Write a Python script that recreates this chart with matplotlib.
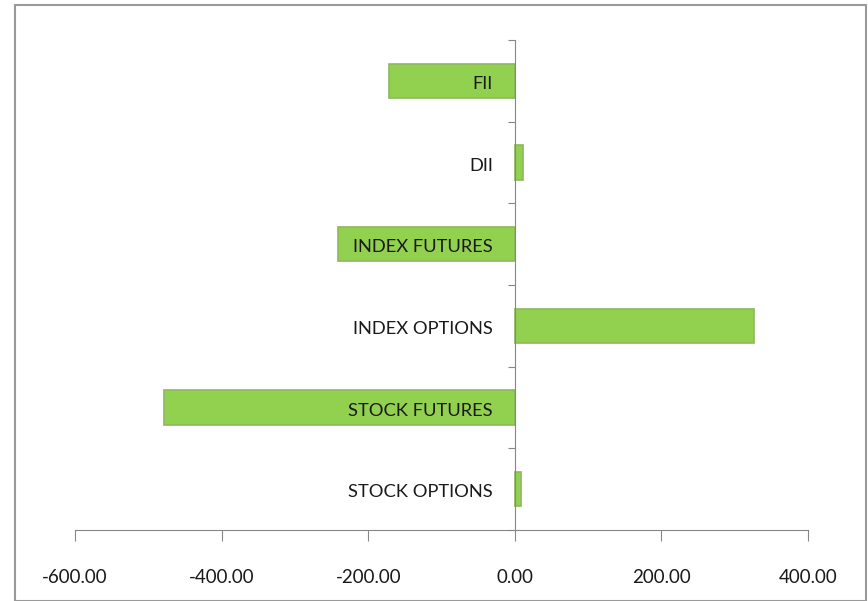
import matplotlib
matplotlib.use('Agg')
import matplotlib.pyplot as plt
from matplotlib.patches import Rectangle
import numpy as np

categories = ['STOCK OPTIONS', 'STOCK FUTURES', 'INDEX OPTIONS', 'INDEX FUTURES', 'DII', 'FII']
values = [8, -479, 326, -241, 11, -172]
xticks = [-600, -400, -200, 0, 200, 400]

plt.rcParams['font.family'] = ['Lato', 'DejaVu Sans']

fig = plt.figure(figsize=(8.68, 6.01), dpi=100)
ax = fig.add_axes([75 / 868, 1 - 530 / 601, (808 - 75) / 868, (530 - 40) / 601])

y = np.arange(len(categories))
ax.barh(y, values, height=0.42, color='#92d050', edgecolor='#8db85a', linewidth=1.2, zorder=2)

ax.set_xlim(-600, 400)
ax.set_ylim(-0.5, len(categories) - 0.5)

ax.spines['top'].set_visible(False)
ax.spines['right'].set_visible(False)
ax.spines['left'].set_position(('data', 0))
ax.spines['left'].set_color('#868686')
ax.spines['bottom'].set_color('#868686')
ax.spines['left'].set_zorder(3)

ax.set_xticks(xticks)
ax.set_xticklabels(['%.2f' % v for v in xticks])
ax.tick_params(axis='x', length=8, color='#868686', pad=20, labelsize=13.5, labelcolor='#1a1a1a')
ax.set_yticks(np.arange(-0.5, len(categories), 1.0))
ax.set_yticklabels([])
ax.tick_params(axis='y', length=5, color='#868686', direction='out')

for yi, name in zip(y, categories):
    ax.annotate(name, xy=(0, yi), xytext=(-22, -3), textcoords='offset pixels',
                ha='right', va='center', fontsize=13.2, color='#1a1a1a', zorder=4)

fig.patches.append(Rectangle((15 / 868, 0), (866 - 15) / 868, 1 - 5 / 601,
                             transform=fig.transFigure, fill=False,
                             edgecolor='#9a9a9a', linewidth=1.5))

fig.savefig('out.png', dpi=100)
